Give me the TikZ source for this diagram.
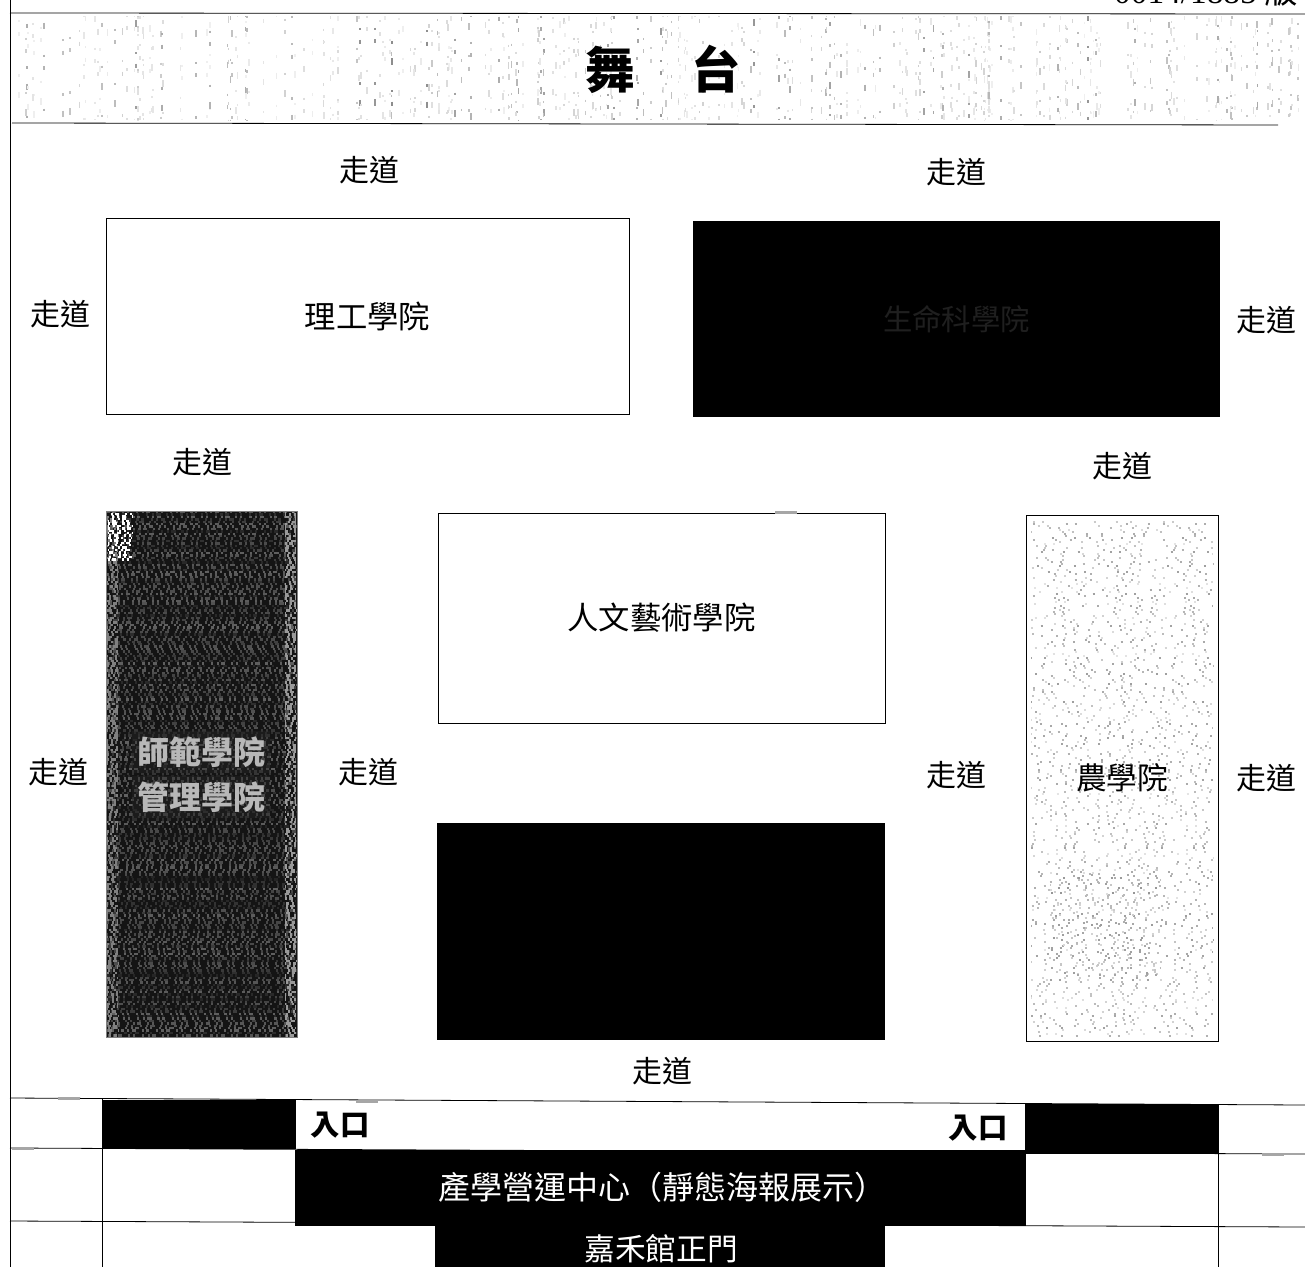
\documentclass[tikz,border=0pt]{standalone}
\usepackage{fontspec}
\setmainfont{Noto Sans CJK TC}
\newfontfamily\serifdigits{Liberation Serif}
\begin{document}
\begin{tikzpicture}[x=0.75pt,y=-0.75pt,line width=0.6pt]
    \tikzstyle{hall}=[draw=black,fill=white,line width=0.6pt]
    \tikzstyle{darkhall}=[fill=black]
    \tikzstyle{walk}=[font=\fontsize{22.5}{22.5}\selectfont,inner sep=0pt]
    \tikzstyle{room}=[font=\fontsize{23.5}{23.5}\selectfont,inner sep=0pt]
    \tikzstyle{whiteroom}=[room,text=white,font=\fontsize{23}{23}\selectfont]
    \tikzstyle{door}=[font=\bfseries\fontsize{22}{22}\selectfont,inner sep=0pt]
    \tikzstyle{smudge}=[fill=black!35]
    \tikzstyle{dense}=[line width=1.8pt,dash pattern=on 1.6pt off 2.7pt on 1.6pt off 1.7pt on 3.2pt off 4.3pt on 1.6pt off 2.1pt on 1.6pt off 5.3pt]
    \tikzstyle{sparse}=[line width=1.5pt,dash pattern=on 1.5pt off 9.7pt on 1.5pt off 23pt on 1.5pt off 5.3pt on 1.5pt off 37pt on 1.5pt off 14.9pt]
    \tikzstyle{streak}=[line width=1.3pt,dash pattern=on 2pt off 11pt on 5pt off 19pt on 1.5pt off 7pt on 3pt off 29pt]
    \tikzstyle{darkroom}=[room,text=white!72!black,font=\bfseries\fontsize{24}{24}\selectfont,fill=black!85,fill opacity=0.4,text opacity=1,inner sep=4pt]
    \useasboundingbox (0,0) rectangle (1305,1267);
    \pgfmathsetseed{4711}

    % stage speckle
    \foreach \i in {1,...,320} {
        \pgfmathsetmacro\px{14+1288*rnd}
        \pgfmathsetmacro\ps{6+42*rnd*rnd}
        \pgfmathsetmacro\ph{60*rnd}
        \draw[streak,black!\ps,dash phase=\ph pt] (\px,16) -- (\px,120);
    }
    \node[font=\bfseries\fontsize{37}{37}\selectfont,inner sep=0pt] (stage) at (663,69) {舞\hspace{42pt}台};
    \node[anchor=base east,font=\fontsize{25}{25}\selectfont,inner sep=0pt] (edition) at (1298,3) {{\serifdigits 0014/1885} 版};

    % frame
    \draw (10,0) -- (10,1267);
    \draw (10,13) -- (1305,14);
    \draw (12,123) -- (1278,125);

    % top halls
    \draw[hall] (106,218) rectangle node[room] (science) {理工學院} (629,414);
    \path[darkhall] (693,221) rectangle node[room,text=black!88,font=\fontsize{22}{22}\selectfont] (life) {生命科學院} (1220,417);

    % left hall
    \fill[black!92] (106,511) rectangle (297,1037);
    \foreach \py in {512.2,514.6,...,1036} {
        \pgfmathsetmacro\ph{30*rnd}
        \pgfmathsetmacro\ps{14+24*rnd}
        \draw[dense,white!\ps!black,dash phase=\ph pt] (107,\py) -- (296,\py);
        \pgfmathsetmacro\ph{30*rnd}
        \draw[dense,white!50!black,dash phase=\ph pt] (107,\py) -- (118,\py);
        \pgfmathsetmacro\ph{30*rnd}
        \draw[dense,white!60!black,dash phase=\ph pt] (285,\py) -- (296,\py);
    }
    \foreach \py in {514,516.4,...,560} {
        \pgfmathsetmacro\ph{30*rnd}
        \draw[dense,white,dash phase=\ph pt] (108,\py) -- (132,\py);
    }
    \draw[black!50] (106,511) rectangle (297,1037);
    \node[darkroom] (education) at (201,752) {師範學院};
    \node[darkroom] (management) at (201,797) {管理學院};

    % centre halls
    \draw[hall] (438,513) rectangle node[room] (arts) {人文藝術學院} (885,723);
    \path[darkhall] (437,823) rectangle (885,1040);

    % right hall
    \draw[hall] (1026,515) rectangle (1218,1041);
    \foreach \py in {522,524,...,1036} {
        \pgfmathsetmacro\ph{90*rnd}
        \pgfmathsetmacro\ps{10+28*rnd}
        \draw[sparse,black!\ps,dash phase=\ph pt] (1031,\py) -- (1213,\py);
    }
    \foreach \py in {870,872.5,...,980} {
        \pgfmathsetmacro\ph{90*rnd}
        \pgfmathsetmacro\ps{12+30*rnd}
        \draw[sparse,black!\ps,dash phase=\ph pt] (1050,\py) -- (1160,\py);
    }
    \node[room,font=\fontsize{23}{23}\selectfont] (agri) at (1122,778) {農學院};

    % walkways
    \node[walk] (W-1) at (369,170) {走道};
    \node[walk] (W-2) at (956,172) {走道};
    \node[walk] (W-3) at (60,314) {走道};
    \node[walk] (W-4) at (1266,320) {走道};
    \node[walk] (W-5) at (202,462) {走道};
    \node[walk] (W-6) at (1122,466) {走道};
    \node[walk] (W-7) at (58,772) {走道};
    \node[walk] (W-8) at (368,772) {走道};
    \node[walk] (W-9) at (956,775) {走道};
    \node[walk] (W-10) at (1266,778) {走道};
    \node[walk] (W-11) at (662,1071) {走道};

    % entrance block
    \draw (10,1098) -- (1305,1105);
    \draw (10,1148) -- (1305,1154);
    \draw (10,1221) -- (1305,1227);
    \draw (102,1099) -- (102,1267);
    \draw (1218,1104) -- (1218,1267);
    \foreach \x/\y in {58/1097,356/1100,12/1147,1262/1153,775/511} {
        \fill[smudge] (\x,\y) rectangle +(22,3);
    }
    \fill (103,1100) rectangle (296,1149);
    \fill (1025,1104) rectangle (1218,1154);
    \fill (295,1150) rectangle (1026,1226);
    \fill (435,1224) rectangle (885,1267);
    \node[door] (door-L) at (340,1125) {入口};
    \node[door] (door-R) at (978,1128) {入口};
    \node[whiteroom,font=\fontsize{24}{24}\selectfont] (center) at (662,1187) {產學營運中心（靜態海報展示）};
    \node[whiteroom] (gate) at (661,1249) {嘉禾館正門};
\end{tikzpicture}
\end{document}
